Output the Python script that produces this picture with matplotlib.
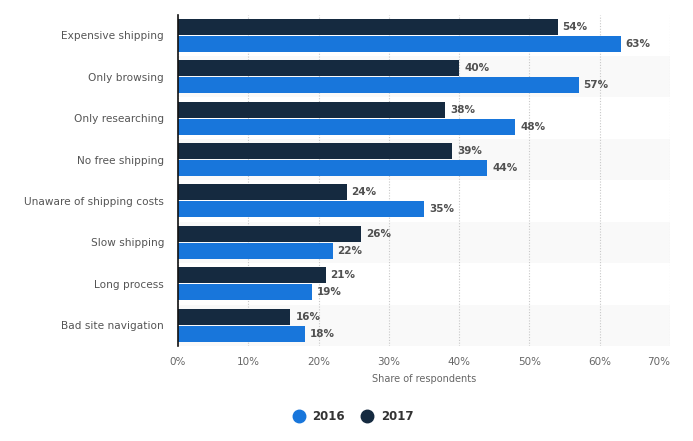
import matplotlib
matplotlib.use("Agg")
import matplotlib.pyplot as plt
from matplotlib.lines import Line2D
import numpy as np

categories = ["Expensive shipping", "Only browsing", "Only researching", "No free shipping",
              "Unaware of shipping costs", "Slow shipping", "Long process", "Bad site navigation"]
values_2017 = [54, 40, 38, 39, 24, 26, 21, 16]
values_2016 = [63, 57, 48, 44, 35, 22, 19, 18]
xticks = [0, 10, 20, 30, 40, 50, 60, 70]
xtick_labels = ["0%", "10%", "20%", "30%", "40%", "50%", "60%", "70%"]

c2016 = "#1876db"
c2017 = "#152a40"

fig = plt.figure(figsize=(6.93, 4.41), dpi=100)
ax = fig.add_axes([178/693, 1 - 346/441, 492/693, 331.5/441])

y = np.arange(len(categories))
h = 0.385
off = 0.205

for i in range(len(categories)):
    if i % 2 == 1:
        ax.axhspan(i - 0.5, i + 0.5, color="#f9f9f9", zorder=0, lw=0)

ax.barh(y - off, values_2017, height=h, color=c2017, zorder=3, label="2017")
ax.barh(y + off, values_2016, height=h, color=c2016, zorder=3, label="2016")

for yi, v in zip(y - off, values_2017):
    ax.text(v + 0.7, yi, f"{v}%", va="center", ha="left", fontsize=7.5,
            fontweight="bold", color="#505050", zorder=4)
for yi, v in zip(y + off, values_2016):
    ax.text(v + 0.7, yi, f"{v}%", va="center", ha="left", fontsize=7.5,
            fontweight="bold", color="#505050", zorder=4)

ax.set_xlim(0, 70)
ax.set_ylim(len(categories) - 0.5, -0.5)
ax.set_yticks(y)
ax.set_yticklabels(categories, fontsize=7.6, color="#555555")
ax.set_xticks(xticks)
ax.set_xticklabels(xtick_labels, fontsize=7.5, color="#666666")
labs = ax.get_xticklabels()
labs[-1].set_ha("right")
labs[-1].set_x(70)
ax.tick_params(axis="y", length=0, pad=10)
ax.tick_params(axis="x", length=0, pad=8)
ax.grid(axis="x", color="#c8c8c8", linestyle=(0, (1, 1.5)), linewidth=0.8, zorder=1)
ax.set_axisbelow(True)
for s in ["top", "right", "bottom"]:
    ax.spines[s].set_visible(False)
ax.spines["left"].set_color("#111111")
ax.spines["left"].set_linewidth(1.2)
ax.spines["left"].set_zorder(5)
ax.set_xlabel("Share of respondents", fontsize=7, color="#666666", labelpad=5)

handles = [Line2D([], [], marker="o", linestyle="", markersize=9, color=c2016, label="2016"),
           Line2D([], [], marker="o", linestyle="", markersize=9, color=c2017, label="2017")]
leg = fig.legend(handles=handles, loc="center", bbox_to_anchor=(350/693, 1 - 417/441), ncol=2,
                 frameon=False, handletextpad=0.15, columnspacing=0.9,
                 prop={"size": 8.5, "weight": "bold"})
for t in leg.get_texts():
    t.set_color("#333333")

fig.savefig("out.png", dpi=100)
